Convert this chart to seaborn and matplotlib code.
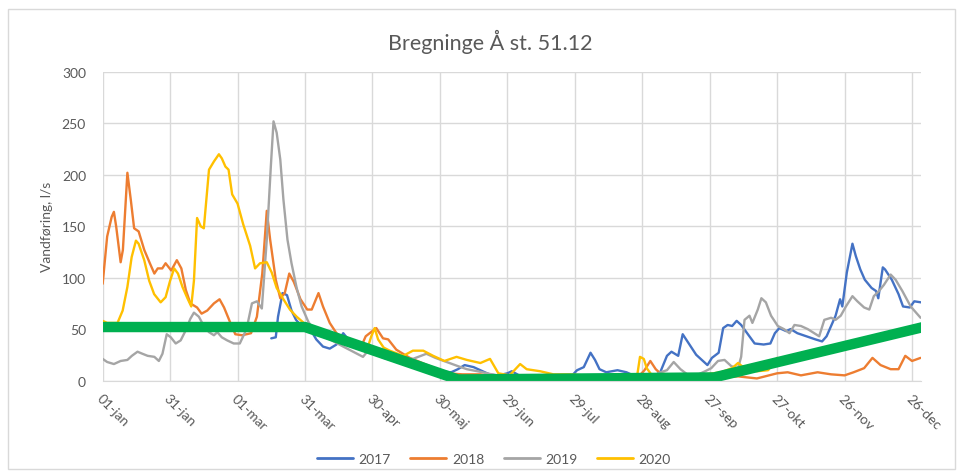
import matplotlib
matplotlib.use('Agg')
import matplotlib.pyplot as plt
from matplotlib.patches import Rectangle
from matplotlib.lines import Line2D
import pandas as pd
import seaborn as sns

# day of year (0 = 01-jan) and discharge in l/s
days_2017 = [75, 77, 78, 80, 82, 84, 86, 88, 91, 95, 98, 101, 104, 107, 110, 115, 120, 125, 130, 135,
             140, 145, 150, 155, 158, 161, 165, 168, 172, 176, 180, 182, 186, 190, 196, 202, 208, 211,
             214, 217, 219, 221, 224, 229, 233, 237, 240, 244, 248, 251, 253, 256, 258, 261, 264, 269,
             271, 274, 276, 278, 280, 282, 284, 287, 290, 294, 297, 299, 301, 304, 306, 309, 313, 317,
             320, 322, 324, 326, 328, 329, 331, 333.5, 335, 337, 339, 342, 344, 345, 347, 348, 351, 354,
             356, 359, 361, 364]
vals_2017 = [41, 42, 62, 85, 83, 68, 59, 54, 55, 40, 33, 31, 35, 46, 38, 30, 27, 22, 19, 17,
             15, 12, 9, 8, 11, 15, 13, 10, 6, 5, 7, 9, 4, 3, 3, 2, 3, 10,
             13, 27, 20, 11, 8, 10, 8, 4, 2, 3, 8, 24, 28, 24, 45, 35, 25, 15,
             22, 27, 51, 54, 53, 58, 54, 45, 36, 35, 36, 46, 51, 48, 50, 46, 43, 40,
             38, 43, 53, 63, 79, 72, 105, 133, 121, 108, 98, 90, 87, 80, 110, 108, 98, 84,
             72, 71, 77, 76]

days_2018 = [0, 2, 4, 5, 6, 8, 9, 11, 12.5, 14, 16, 18.5, 21, 23, 24.5, 26.5, 28, 30.5, 33, 35,
             37, 39, 42, 44, 46.5, 49.5, 52, 54, 57, 59, 62, 66, 68.6, 71, 73, 74.5, 77, 79, 81, 83,
             85, 88, 91, 93, 96, 98, 101, 104, 107.7, 111, 115, 117, 121.7, 124.7, 127, 130.6, 136.6,
             145.5, 153, 160, 168, 175, 185, 195, 205, 215, 225, 233, 238, 241, 243.6, 246, 248, 251,
             256, 262, 270, 276, 282.6, 291, 300, 304.7, 310.6, 318, 324, 330, 334, 338.7, 342.4,
             346, 350.5, 354, 357, 360, 363.8]
vals_2018 = [94, 140, 159, 164, 150, 115, 127, 202, 176, 148, 145, 127, 114, 104, 109, 109, 114, 107, 117, 109,
             88, 75, 71, 65, 68, 75, 79, 71, 55, 45, 44, 46, 62, 104, 165, 137, 98, 80, 85, 104,
             96, 79, 69, 69, 85, 72, 56, 46, 40, 33, 33, 43, 51, 41, 40, 30, 22,
             14, 7, 6, 6, 4, 3, 3, 4, 3, 5, 4, 3, 10, 19, 11, 7, 6,
             4, 4, 3, 3, 4, 2, 7, 8, 5, 8, 6, 5, 8, 12, 22,
             15, 11, 11, 24, 19, 22]

days_2019 = [0, 2, 5, 8, 11, 13, 15.5, 17.7, 20, 23, 25, 26.6, 28.5, 30.3, 32.5, 34.7, 37, 39, 40.6, 42.8,
             45, 47.3, 49.5, 51, 53, 55.4, 58.3, 61, 64, 66.4, 68.6, 70.8, 73, 74.8, 76, 77.4, 79, 80.4,
             82.2, 84, 86.3, 88.5, 91.5, 95, 101, 107, 111.4, 115.8, 118.8, 122, 126, 130, 134, 138, 144,
             148, 153, 158, 162, 169, 175, 182, 195, 210, 225, 240, 245, 248, 251, 254, 257, 260, 264,
             268, 270.7, 273.7, 276.6, 279.6, 282.6, 284, 285.5, 287.7, 289, 291.4, 293, 295, 297.3,
             300.3, 303, 305.5, 307.7, 310.6, 313.6, 316.5, 318.7, 321, 324, 326, 328.3, 330.6, 333.5,
             335.7, 338.7, 341, 343, 345.3, 347.5, 350.5, 352.7, 355.7, 359.4, 363.8]
vals_2019 = [21, 18, 16, 19, 20, 24, 28, 26, 24, 23, 19, 26, 45, 42, 36, 39, 49, 60, 66, 62,
             53, 47, 44, 47, 42, 39, 36, 36, 50, 75, 77, 70, 137, 208, 252, 241, 215, 176,
             137, 114, 90, 72, 57, 46, 40, 33, 28, 23, 31, 30, 27, 24, 22, 21, 26,
             22, 18, 14, 11, 8, 5, 3, 2, 2, 3, 3, 4, 8, 10, 18, 11, 6, 5,
             9, 12, 19, 20, 14, 12, 23, 59, 63, 56, 69, 80, 76, 63,
             53, 50, 46, 54, 53, 50, 46, 43, 59, 61, 59, 63, 72, 82,
             77, 71, 69, 82, 87, 93, 103, 98, 87, 72, 61]

days_2020 = [0, 2, 6.6, 8.9, 11, 12.9, 14.8, 16, 18.5, 20.7, 22.9, 25.8, 28, 30, 31.8, 33.5, 35.5, 37.7,
             39.4, 40.6, 42, 43.6, 45, 47.3, 49.5, 51.7, 53, 54.6, 56, 57.6, 60, 62.5, 65.6, 67.8, 70,
             73, 75.2, 77.4, 80.4, 83.3, 86.3, 90, 95, 100, 105, 110, 115, 118, 119.5, 121, 122.5, 125,
             127.7, 133.7, 138, 142.6, 147, 152, 157.4, 162, 168, 172.3, 176, 181, 185.7, 188.6, 194.6,
             200.5, 208, 220, 237.7, 239, 240.7, 242, 244, 250, 260, 268, 275, 280, 282.6, 285.5, 291,
             296, 300]
vals_2020 = [58, 56, 56, 68, 91, 120, 136, 133, 117, 97, 84, 76, 81, 97, 109, 104, 91, 80,
             72, 97, 158, 150, 148, 205, 213, 220, 216, 208, 205, 181, 172, 152, 131, 109, 114,
             115, 105, 90, 79, 69, 62, 55, 48, 44, 40, 36, 33, 33, 43, 51, 40, 32,
             29, 24, 29, 29, 24, 19, 23, 20, 17, 21, 7, 5, 16, 11, 9,
             6, 6, 4, 4, 23, 21, 12, 6, 4, 4, 6, 8, 12, 17, 12, 9,
             10, 22]

# green reference line
ref_days = [0, 90, 158, 272, 365]
ref_vals = [52, 52, 1, 3, 52]

tick_days = [0, 30, 60, 90, 120, 150, 180, 210, 240, 270, 300, 330, 360]
tick_labels = ['01-jan', '31-jan', '01-mar', '31-mar', '30-apr', '30-maj', '29-jun',
               '29-jul', '28-aug', '27-sep', '27-okt', '26-nov', '26-dec']

years = ['2017', '2018', '2019', '2020']
colors = ['#4472C4', '#ED7D31', '#A5A5A5', '#FFC000']

frames = []
for yr, d, v in zip(years, [days_2017, days_2018, days_2019, days_2020],
                    [vals_2017, vals_2018, vals_2019, vals_2020]):
    frames.append(pd.DataFrame({'day': d, 'value': v, 'year': yr}))
df = pd.concat(frames, ignore_index=True)
ref = pd.DataFrame({'day': ref_days, 'value': ref_vals})

sns.set_style('white')
plt.rcParams['font.family'] = ['Lato', 'DejaVu Sans']
grey_txt = '#595959'

fig = plt.figure(figsize=(9.63, 4.77), dpi=100)
ax = fig.add_axes([0.1066, 0.2002, 0.8498, 0.6468])

sns.lineplot(data=df, x='day', y='value', hue='year', palette=colors, hue_order=years,
             estimator=None, sort=False, linewidth=1.7, legend=False, ax=ax)
sns.lineplot(data=ref, x='day', y='value', color='#00B050', linewidth=7.5,
             estimator=None, sort=False, legend=False, ax=ax, solid_capstyle='butt')

ax.set_xlim(0, 364)
ax.set_ylim(0, 300)
ax.set_yticks(range(0, 301, 50))
ax.set_xticks(tick_days)
ax.set_xticklabels(tick_labels, rotation=-45, ha='left', va='top', rotation_mode='anchor')
ax.tick_params(axis='both', length=0, labelsize=10, labelcolor=grey_txt)
ax.tick_params(axis='x', pad=8)
ax.tick_params(axis='y', pad=12)
ax.grid(True, color='#D9D9D9', linewidth=1)
ax.set_axisbelow(True)
for s in ['top', 'right', 'left']:
    ax.spines[s].set_visible(False)
ax.spines['bottom'].set_color('#D9D9D9')
ax.set_xlabel('')
ax.set_ylabel('Vandføring, l/s', fontsize=10, color=grey_txt, labelpad=6)

fig.text(0.509, 0.912, 'Bregninge Å st. 51.12', ha='center', va='center',
         fontsize=15.5, color=grey_txt)

handles = [Line2D([], [], color=c, linewidth=2) for c in colors]
fig.legend(handles, years, loc='center', bbox_to_anchor=(0.513, 0.036), ncol=4,
           frameon=False, fontsize=10, handlelength=2.6, columnspacing=1.4,
           handletextpad=0.4, labelcolor=grey_txt)

fig.patches.append(Rectangle((8 / 963, 7 / 477), 947 / 963, 460 / 477, transform=fig.transFigure,
                             fill=False, edgecolor='#D9D9D9', linewidth=1))

fig.savefig('out.png', dpi=100)
